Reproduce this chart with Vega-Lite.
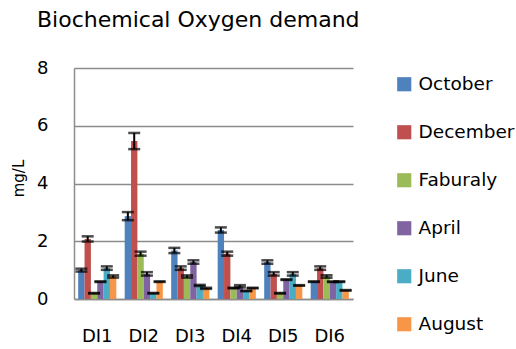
{
  "$schema": "https://vega.github.io/schema/vega-lite/v6.json",
  "width": 279,
  "height": 231,
  "autosize": {"type": "none"},
  "padding": {"left": 74, "top": 68, "right": 163, "bottom": 50},
  "background": "white",
  "config": {
    "font": "DejaVu Sans",
    "view": {"stroke": null}
  },
  "title": {
    "text": "Biochemical Oxygen demand",
    "font": "DejaVu Sans",
    "fontSize": 22,
    "fontWeight": "normal",
    "anchor": "start",
    "frame": "bounds",
    "dx": 26,
    "dy": -23,
    "color": "#000000"
  },
  "data": {
    "values": [
      {"site": "DI1", "month": "October", "value": 1.0, "lo": 0.95, "hi": 1.05},
      {"site": "DI1", "month": "December", "value": 2.08, "lo": 1.99, "hi": 2.17},
      {"site": "DI1", "month": "Faburaly", "value": 0.2, "lo": 0.19, "hi": 0.21},
      {"site": "DI1", "month": "April", "value": 0.6, "lo": 0.59, "hi": 0.61},
      {"site": "DI1", "month": "June", "value": 1.07, "lo": 1.01, "hi": 1.13},
      {"site": "DI1", "month": "August", "value": 0.78, "lo": 0.74, "hi": 0.82},
      {"site": "DI2", "month": "October", "value": 2.87, "lo": 2.73, "hi": 3.01},
      {"site": "DI2", "month": "December", "value": 5.47, "lo": 5.19, "hi": 5.75},
      {"site": "DI2", "month": "Faburaly", "value": 1.57, "lo": 1.5, "hi": 1.64},
      {"site": "DI2", "month": "April", "value": 0.87, "lo": 0.81, "hi": 0.93},
      {"site": "DI2", "month": "June", "value": 0.2, "lo": 0.19, "hi": 0.21},
      {"site": "DI2", "month": "August", "value": 0.6, "lo": 0.59, "hi": 0.61},
      {"site": "DI3", "month": "October", "value": 1.68, "lo": 1.59, "hi": 1.77},
      {"site": "DI3", "month": "December", "value": 1.07, "lo": 1.01, "hi": 1.13},
      {"site": "DI3", "month": "Faburaly", "value": 0.78, "lo": 0.74, "hi": 0.82},
      {"site": "DI3", "month": "April", "value": 1.28, "lo": 1.22, "hi": 1.34},
      {"site": "DI3", "month": "June", "value": 0.47, "lo": 0.45, "hi": 0.49},
      {"site": "DI3", "month": "August", "value": 0.37, "lo": 0.35, "hi": 0.39},
      {"site": "DI4", "month": "October", "value": 2.39, "lo": 2.3, "hi": 2.48},
      {"site": "DI4", "month": "December", "value": 1.57, "lo": 1.5, "hi": 1.64},
      {"site": "DI4", "month": "Faburaly", "value": 0.38, "lo": 0.37, "hi": 0.39},
      {"site": "DI4", "month": "April", "value": 0.44, "lo": 0.4, "hi": 0.48},
      {"site": "DI4", "month": "June", "value": 0.28, "lo": 0.27, "hi": 0.29},
      {"site": "DI4", "month": "August", "value": 0.38, "lo": 0.37, "hi": 0.39},
      {"site": "DI5", "month": "October", "value": 1.28, "lo": 1.22, "hi": 1.34},
      {"site": "DI5", "month": "December", "value": 0.87, "lo": 0.81, "hi": 0.93},
      {"site": "DI5", "month": "Faburaly", "value": 0.2, "lo": 0.19, "hi": 0.21},
      {"site": "DI5", "month": "April", "value": 0.67, "lo": 0.66, "hi": 0.68},
      {"site": "DI5", "month": "June", "value": 0.87, "lo": 0.81, "hi": 0.93},
      {"site": "DI5", "month": "August", "value": 0.47, "lo": 0.46, "hi": 0.48},
      {"site": "DI6", "month": "October", "value": 0.6, "lo": 0.59, "hi": 0.61},
      {"site": "DI6", "month": "December", "value": 1.07, "lo": 1.01, "hi": 1.13},
      {"site": "DI6", "month": "Faburaly", "value": 0.78, "lo": 0.74, "hi": 0.82},
      {"site": "DI6", "month": "April", "value": 0.6, "lo": 0.59, "hi": 0.61},
      {"site": "DI6", "month": "June", "value": 0.6, "lo": 0.59, "hi": 0.61},
      {"site": "DI6", "month": "August", "value": 0.3, "lo": 0.29, "hi": 0.31}
    ]
  },
  "encoding": {
    "x": {
      "field": "site",
      "type": "nominal",
      "scale": {"paddingInner": 0.18, "paddingOuter": 0.09},
      "axis": {
        "title": null,
        "labelAngle": 0,
        "labelFont": "DejaVu Sans",
        "labelFontSize": 18,
        "labelColor": "#000000",
        "labelPadding": 28,
        "ticks": false,
        "domainColor": "#8c8c8c",
        "domainWidth": 1.5
      }
    },
    "xOffset": {
      "field": "month",
      "type": "nominal",
      "sort": ["October", "December", "Faburaly", "April", "June", "August"],
      "scale": {"paddingInner": 0, "paddingOuter": 0}
    }
  },
  "layer": [
    {
      "mark": {"type": "bar"},
      "encoding": {
        "y": {
          "field": "value",
          "type": "quantitative",
          "scale": {"domain": [0, 8], "nice": false},
          "axis": {
            "title": "mg/L",
            "titleFont": "DejaVu Sans",
            "titleFontSize": 15,
            "titleFontWeight": "normal",
            "titleColor": "#000000",
            "titleAngle": 270,
            "titleX": -56,
            "titleY": 110,
            "titleAlign": "center",
            "titleBaseline": "middle",
            "values": [0, 2, 4, 6, 8],
            "labelFont": "DejaVu Sans",
            "labelFontSize": 18,
            "labelColor": "#000000",
            "labelPadding": 26,
            "ticks": false,
            "grid": true,
            "gridColor": "#8c8c8c",
            "gridWidth": 1.5,
            "domainColor": "#8c8c8c",
            "domainWidth": 1.5
          }
        },
        "color": {
          "field": "month",
          "type": "nominal",
          "scale": {
            "domain": ["October", "December", "Faburaly", "April", "June", "August"],
            "range": ["#4F81BD", "#C0504D", "#9BBB59", "#8064A2", "#4BACC6", "#F79646"]
          },
          "legend": {
            "title": null,
            "orient": "none",
            "legendX": 321,
            "legendY": 7,
            "padding": 0,
            "symbolType": "square",
            "symbolSize": 200,
            "symbolStrokeWidth": 0,
            "labelFont": "DejaVu Sans",
            "labelFontSize": 18.5,
            "labelColor": "#000000",
            "labelOffset": 5,
            "rowPadding": 29
          }
        }
      }
    },
    {
      "mark": {"type": "rule", "color": "#000000", "strokeWidth": 2},
      "encoding": {
        "y": {"field": "lo", "type": "quantitative"},
        "y2": {"field": "hi"}
      }
    },
    {
      "mark": {"type": "tick", "color": "#000000", "size": 12, "thickness": 2.5},
      "encoding": {"y": {"field": "lo", "type": "quantitative"}}
    },
    {
      "mark": {"type": "tick", "color": "#000000", "size": 12, "thickness": 2.5},
      "encoding": {"y": {"field": "hi", "type": "quantitative"}}
    }
  ]
}
